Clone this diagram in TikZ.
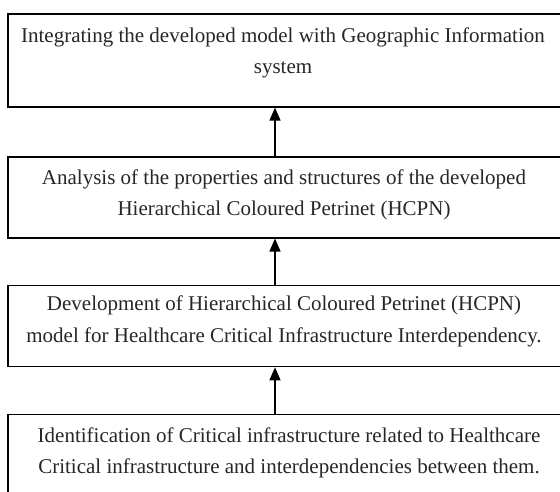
\documentclass[tikz,border=0pt]{standalone}
\usepackage{fontspec}
\setmainfont{Liberation Serif}
\usetikzlibrary{arrows.meta,calc}
\begin{document}
\begin{tikzpicture}[x=1pt,y=-1pt,
  box/.style={draw, line width=1.8pt, rectangle, minimum width=560pt, anchor=north west, inner sep=0pt},
  txt/.style={font=\fontsize{21}{31.5}\selectfont, align=center, inner sep=0pt, text=black!85},
  link/.style={line width=1.3pt, -{Triangle[length=13pt,width=11pt]}}]
\useasboundingbox (0,0) rectangle (560,491);
\clip (0,0) rectangle (560,491);
\node[box, minimum height=93pt] (b1) at (7,12.8) {};
\node[box, minimum height=81pt] (b2) at (7,155.7) {};
\node[box, minimum height=81pt] (b3) at (7,284.5) {};
\node[box, minimum height=81pt] (b4) at (7,413.5) {};
\node[txt] (t1) at (283,53) {Integrating the developed model with Geographic Information\\system};
\node[txt] (t2) at (284,195) {Analysis of the properties and structures of the developed\\Hierarchical Coloured Petrinet (HCPN)};
\node[txt] (t3) at (284,321.5) {Development of Hierarchical Coloured Petrinet (HCPN)\\model for Healthcare Critical Infrastructure Interdependency.};
\node[txt] (t4) at (289,453) {Identification of Critical infrastructure related to Healthcare\\Critical infrastructure and interdependencies between them.};
\coordinate (ax) at (275,0);
\draw[link] (b2.north -| ax) -- (b1.south -| ax);
\draw[link] (b3.north -| ax) -- (b2.south -| ax);
\draw[link] (b4.north -| ax) -- (b3.south -| ax);
\end{tikzpicture}
\end{document}
